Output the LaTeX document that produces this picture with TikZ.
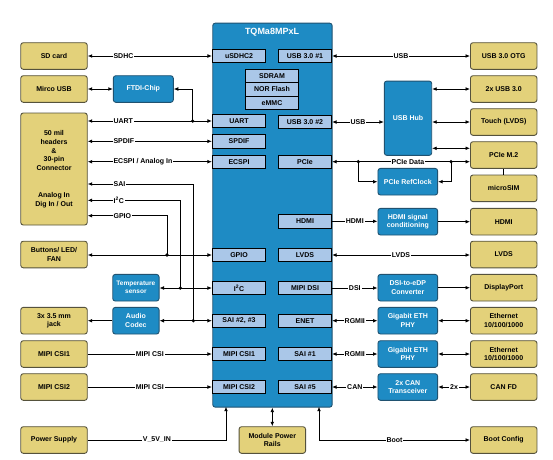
\documentclass[tikz,border=0pt]{standalone}
\usepackage{fontspec}
\setmainfont{Liberation Sans}
\usetikzlibrary{arrows.meta}
\definecolor{ylw}{RGB}{227,209,122}
\definecolor{ylwb}{RGB}{85,82,60}
\definecolor{blu}{RGB}{30,139,196}
\definecolor{blub}{RGB}{32,82,112}
\definecolor{lblue}{RGB}{170,199,232}
\begin{document}
\begin{tikzpicture}[x=1pt,y=-1pt,
  >={Latex[length=4.5pt,width=3.8pt]},
  every node/.style={font=\fontsize{7}{8.75}\selectfont\bfseries, inner sep=0pt, align=center},
  ybox/.style={draw=ylwb, fill=ylw, line width=0.9pt, rounded corners=2.5pt, minimum width=66.5pt, minimum height=26.6pt},
  bbox/.style={draw=blub, fill=blu, line width=0.9pt, rounded corners=2.5pt, text=white, minimum height=26.6pt},
  sbox/.style={draw=black, fill=lblue, line width=0.8pt, minimum width=53.4pt, minimum height=13.4pt},
  lab/.style={fill=white, inner sep=1pt},
  dot/.style={circle, fill=black, minimum size=3.6pt, inner sep=0pt},
  every path/.style={line width=0.8pt}
]
\useasboundingbox (0,0) rectangle (553,459);

% ---------- left yellow ----------
\node[ybox] (sd) at (54,56) {SD card};
\node[ybox] (musb) at (54,89) {Mirco USB};
\node[ybox, minimum height=112pt] (hdr) at (54,169) {50 mil\\headers\\\&\\30-pin\\Connector\\[17.9pt]Analog In\\Dig In / Out};
\node[ybox] (btn) at (54,254.5) {Buttons/ LED/\\FAN};
\node[ybox] (jack) at (54,320.7) {3x 3.5 mm\\jack};
\node[ybox] (csi1y) at (54,354) {MIPI CSI1};
\node[ybox] (csi2y) at (54,387) {MIPI CSI2};
\node[ybox] (psu) at (54,440) {Power Supply};

% ---------- left blue ----------
\node[bbox, minimum width=60pt] (ftdi) at (143.3,89) {FTDI-Chip};
\node[bbox, minimum width=46.3pt, font=\fontsize{6.5}{8}\selectfont\bfseries] (temp) at (135.9,287.7) {Temperature\\sensor};
\node[bbox, minimum width=46.3pt] (codec) at (135.9,320.7) {Audio\\Codec};

% ---------- main module ----------
\node[bbox, minimum width=119.4pt, minimum height=384pt, anchor=north west] (main) at (212.3,22.7) {};
\node[text=white, font=\fontsize{9}{10}\selectfont\bfseries] (title) at (272,32.5) {TQMa8MPxL};

\node[sbox] (usdhc) at (239,56) {uSDHC2};
\node[sbox] (uart) at (239,121) {UART};
\node[sbox] (spdif) at (239,141.3) {SPDIF};
\node[sbox] (ecspi) at (239,161.7) {ECSPI};
\node[sbox] (gpio) at (239,255) {GPIO};
\node[sbox] (i2c) at (239,288) {I\textsuperscript{2}C};
\node[sbox] (sai23) at (239,320.7) {SAI \#2, \#3};
\node[sbox] (csi1) at (239,354) {MIPI CSI1};
\node[sbox] (csi2) at (239,387) {MIPI CSI2};

\node[sbox] (usb1) at (305,56) {USB 3.0 \#1};
\node[sbox] (usb2) at (305,122) {USB 3.0 \#2};
\node[sbox] (pcie) at (305,161.7) {PCIe};
\node[sbox] (hdmi) at (305,221.3) {HDMI};
\node[sbox] (lvds) at (305,255) {LVDS};
\node[sbox] (mdsi) at (305,288) {MIPI DSI};
\node[sbox] (enet) at (305,320.7) {ENET};
\node[sbox] (sai1) at (305,354) {SAI \#1};
\node[sbox] (sai5) at (305,387) {SAI \#5};

\node[sbox] (sdram) at (272,76) {SDRAM};
\node[sbox] (nor) at (272,89.4) {NOR Flash};
\node[sbox] (emmc) at (272,102.8) {eMMC};

\node[ybox] (rails) at (272.3,440) {Module Power\\Rails};

% ---------- right blue ----------
\node[bbox, minimum width=47.4pt, minimum height=74.3pt] (hub) at (408,118.2) {USB Hub};
\node[bbox, minimum width=59.7pt] (refclk) at (407.8,181.7) {PCIe RefClock};
\node[bbox, minimum width=59.7pt] (hdmic) at (407.8,221.7) {HDMI signal\\conditioning};
\node[bbox, minimum width=59.7pt] (dsic) at (407.8,287.7) {DSI-to-eDP\\Converter};
\node[bbox, minimum width=59.7pt] (phy1) at (407.8,320.7) {Gigabit ETH\\PHY};
\node[bbox, minimum width=59.7pt] (phy2) at (407.8,354) {Gigabit ETH\\PHY};
\node[bbox, minimum width=59.7pt] (can) at (407.8,387) {2x CAN\\Transceiver};

% ---------- right yellow ----------
\node[ybox] (otg) at (503.7,56) {USB 3.0 OTG};
\node[ybox] (usb3y) at (503.7,89) {2x USB 3.0};
\node[ybox] (touch) at (503.7,122) {Touch (LVDS)};
\node[ybox] (m2) at (503.7,155) {PCIe M.2};
\node[ybox] (sim) at (503.7,188.3) {microSIM};
\node[ybox] (hdmiy) at (503.7,221.7) {HDMI};
\node[ybox] (lvdsy) at (503.7,254.5) {LVDS};
\node[ybox] (dp) at (503.7,287.7) {DisplayPort};
\node[ybox] (eth1) at (503.7,320.7) {Ethernet\\10/100/1000};
\node[ybox] (eth2) at (503.7,354) {Ethernet\\10/100/1000};
\node[ybox] (canfd) at (503.7,387) {CAN FD};
\node[ybox] (boot) at (503.7,440) {Boot Config};

% ---------- junction dots ----------
\node[dot] (d1) at (192.7,121) {};
\node[dot] (d2) at (193.3,320.7) {};
\node[dot] (d3) at (180.3,288) {};
\node[dot] (d4) at (167,255) {};
\node[dot] (d5) at (358.3,161.7) {};
\node[dot] (d6) at (451,161.7) {};
\coordinate (vin) at (226,406.7);
\coordinate (bt) at (319,406.7);

% ---------- left connectors ----------
\draw[<->] (sd.east) -- node[lab,pos=0.197,anchor=west]{SDHC} (sd.east -| usdhc.west);
\draw[<->] (musb.east) -- (musb.east -| ftdi.west);
\draw[<->] (hdr.east |- uart.west) -- node[lab,pos=0.197,anchor=west]{UART} (uart.west);
\draw[->] (d1.center) |- (ftdi.east);
\draw[<->] (hdr.east |- spdif.west) -- node[lab,pos=0.197,anchor=west]{SPDIF} (spdif.west);
\draw[<->] (hdr.east |- ecspi.west) -- node[lab,pos=0.197,anchor=west]{ECSPI / Analog In} (ecspi.west);
\draw[<-] (hdr.east |- 0,184) -- node[lab,pos=0.232,anchor=west]{SAI} (d2.center |- 0,184) -- (d2.center);
\draw[<-] (hdr.east |- 0,200.3) -- node[lab,pos=0.265,anchor=west]{I\textsuperscript{2}C} (d3.center |- 0,200.3) -- (d3.center);
\draw[<-] (hdr.east |- 0,215.7) -- node[lab,pos=0.309,anchor=west]{GPIO} (d4.center |- 0,215.7) -- (d4.center);
\draw[<->] (btn.east |- gpio.west) -- (gpio.west);
\draw[<->] (temp.east |- i2c.west) -- (i2c.west);
\draw[->] (codec.west) -- (jack.east);
\draw[<->] (codec.east) -- (sai23.west);
\draw[->] (csi1y.east) -- node[lab]{MIPI CSI} (csi1.west);
\draw[->] (csi2y.east) -- node[lab]{MIPI CSI} (csi2.west);
\draw[->] (psu.east) -- node[lab]{V\_5V\_IN} (psu.east -| vin) -- (vin);
\draw[<->] (main.south -| rails.north) -- (rails.north);
\draw[<->] (bt) -- (bt |- boot.west) -- node[lab]{Boot} (boot.west);

% ---------- right connectors ----------
\draw[<->] (usb1.east) -- node[lab]{USB} (usb1.east -| otg.west);
\draw[<->] (usb2.east) -- node[lab]{USB} (usb2.east -| hub.west);
\draw[<->] (hub.east |- usb3y.west) -- (usb3y.west);
\draw[<->] (hub.east |- touch.west) -- (touch.west);
\draw[<->] (hub.east |- 0,148.3) -- (m2.west |- 0,148.3);
\draw[<->] (pcie.east) -- node[lab,pos=0.55]{PCIe Data} (pcie.east -| m2.west);
\draw[->] (d5.center) |- (refclk.west);
\draw[->] (d6.center) |- (refclk.east);
\draw (m2.south) -- (sim.north);
\draw[->] (hdmi.east) -- node[lab]{HDMI} (hdmi.east -| hdmic.west);
\draw[->] (hdmic.east) -- (hdmic.east -| hdmiy.west);
\draw[<->] (lvds.east) -- node[lab]{LVDS} (lvds.east -| lvdsy.west);
\draw[->] (mdsi.east) -- node[lab]{DSI} (mdsi.east -| dsic.west);
\draw[->] (dsic.east) -- (dsic.east -| dp.west);
\draw[<->] (enet.east) -- node[lab]{RGMII} (enet.east -| phy1.west);
\draw[<->] (phy1.east) -- (phy1.east -| eth1.west);
\draw[<->] (sai1.east) -- node[lab]{RGMII} (sai1.east -| phy2.west);
\draw[<->] (phy2.east) -- (phy2.east -| eth2.west);
\draw[<->] (sai5.east) -- node[lab]{CAN} (sai5.east -| can.west);
\draw[<->] (can.east) -- node[lab]{2x} (can.east -| canfd.west);
\end{tikzpicture}
\end{document}
